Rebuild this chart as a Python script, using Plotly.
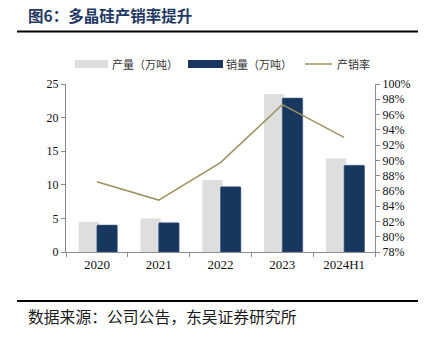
import plotly.graph_objects as go

categories = ["2020", "2021", "2022", "2023", "2024H1"]
production = [4.5, 5.0, 10.7, 23.5, 13.9]      # 产量（万吨）
sales = [4.0, 4.35, 9.7, 22.9, 12.9]           # 销量（万吨）
ratio = [0.872, 0.848, 0.897, 0.973, 0.930]    # 产销率

W, H = 428, 337
L, R, T, B = 66, 53, 84, 85
PW, PH = W - L - R, H - T - B

def px(x):
    return (x - L) / PW

def py(y):
    return (H - B - y) / PH

GREY = "#dedede"
NAVY = "#17375e"
OLIVE = "#9e9162"
AXIS = "#8c8c8c"
SERIF = "Liberation Serif, Times New Roman, serif"
CJK = "Noto Sans CJK SC"

fig = go.Figure()
fig.add_trace(go.Bar(x=categories, y=production, name="产量（万吨）",
                     marker=dict(color=GREY, cornerradius=1, line=dict(width=0)),
                     width=0.33, offset=-0.295, showlegend=False))
fig.add_trace(go.Bar(x=categories, y=sales, name="销量（万吨）",
                     marker=dict(color=NAVY, cornerradius=1, line=dict(width=0.6, color="#3d5a80")),
                     width=0.33, offset=0.0, showlegend=False))
fig.add_trace(go.Scatter(x=categories, y=ratio, name="产销率", mode="lines",
                         line=dict(color=OLIVE, width=1.5), yaxis="y2", showlegend=False))

shapes = []
annotations = []
# top / bottom rules
shapes.append(dict(type="line", xref="paper", yref="paper", x0=px(17), x1=px(418),
                   y0=py(31.5), y1=py(31.5), line=dict(color="#000000", width=2)))
shapes.append(dict(type="line", xref="paper", yref="paper", x0=px(17), x1=px(418),
                   y0=py(301), y1=py(301), line=dict(color="#000000", width=2)))
# legend (manual)
shapes.append(dict(type="rect", xref="paper", yref="paper", x0=px(75), x1=px(108),
                   y0=py(68), y1=py(60), line=dict(width=0), fillcolor=GREY))
shapes.append(dict(type="rect", xref="paper", yref="paper", x0=px(188), x1=px(223),
                   y0=py(68), y1=py(60), line=dict(width=0), fillcolor=NAVY))
shapes.append(dict(type="line", xref="paper", yref="paper", x0=px(305), x1=px(332),
                   y0=py(64), y1=py(64), line=dict(color=OLIVE, width=1.5)))
for text, x in [("产量（万吨）", 110), ("销量（万吨）", 224), ("产销率", 335)]:
    annotations.append(dict(text=text, xref="paper", yref="paper", x=px(x), y=py(64),
                            xanchor="left", yanchor="middle", showarrow=False,
                            font=dict(family=CJK, size=11, color="#333333")))
# title
annotations.append(dict(text="<b>图6：多晶硅产销率提升</b>", xref="paper", yref="paper",
                        x=px(26), y=py(15), xanchor="left", yanchor="middle", showarrow=False,
                        font=dict(family=CJK, size=15.5, color="#1f3864")))
# source
annotations.append(dict(text="数据来源：公司公告，东吴证券研究所", xref="paper", yref="paper",
                        x=px(26), y=py(316), xanchor="left", yanchor="middle", showarrow=False,
                        font=dict(family=CJK, size=15.8, color="#1a1a1a")))

fig.update_layout(
    width=W, height=H, margin=dict(l=L, r=R, t=T, b=B, pad=0),
    paper_bgcolor="white", plot_bgcolor="white",
    barmode="overlay", showlegend=False,
    xaxis=dict(type="category", showgrid=False, showline=True, linecolor=AXIS, linewidth=1,
               ticks="outside", ticklen=4, tickcolor=AXIS, tickson="boundaries",
               tickfont=dict(family=SERIF, size=13, color="#111111")),
    yaxis=dict(range=[0, 25], dtick=5, showgrid=False, showline=True, linecolor=AXIS,
               linewidth=1, ticks="outside", ticklen=4, tickcolor=AXIS, zeroline=False,
               tickfont=dict(family=SERIF, size=12, color="#111111")),
    yaxis2=dict(range=[0.78, 1.00], dtick=0.02, tickformat=".0%", overlaying="y", side="right",
                showgrid=False, showline=True, linecolor=AXIS, linewidth=1, ticks="outside",
                ticklen=4, tickcolor=AXIS, zeroline=False,
                tickfont=dict(family=SERIF, size=12, color="#111111")),
    shapes=shapes, annotations=annotations,
)

fig.write_html("out.html")
